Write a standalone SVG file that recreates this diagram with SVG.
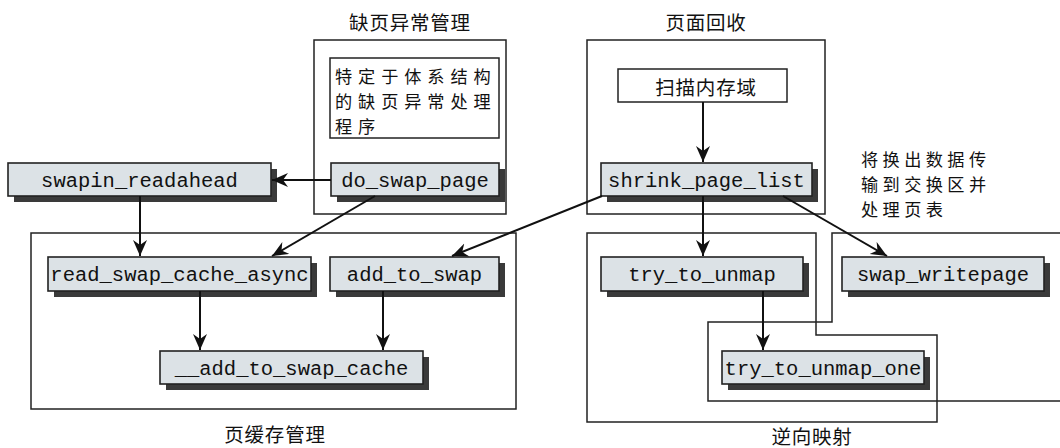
<svg xmlns="http://www.w3.org/2000/svg" width="1060" height="448" viewBox="0 0 1060 448">
<style>
.bg{fill:#ffffff}
.grp{fill:none;stroke:#222;stroke-width:1.5}
.wbox{fill:#ffffff;stroke:#222;stroke-width:1.5}
.shadow{fill:#3a3a3a}
.fn{fill:#dce2e6;stroke:#222;stroke-width:1.6}
.mono{font-family:"Liberation Mono","DejaVu Sans Mono",monospace;font-size:20.5px;fill:#111;text-anchor:middle}
.cjk{font-family:"Noto Sans CJK SC",sans-serif;font-size:19.5px;fill:#111}
.ml{font-size:17.2px}
.ttl{text-anchor:middle;letter-spacing:0.8px}
.conn{stroke:#111;stroke-width:2;fill:none}
</style>
<defs>
<marker id="arr" markerUnits="userSpaceOnUse" markerWidth="18" markerHeight="16" refX="16" refY="7" orient="auto">
<path d="M0,0 L16,7 L0,14 L5,7 Z" fill="#111"/>
</marker>
</defs>
<rect class="bg" x="0" y="0" width="1060" height="448"/>

<g id="group-fault">
<rect class="grp" x="314" y="40" width="192" height="174"/>
<text class="cjk ttl" x="410" y="30">缺页异常管理</text>
</g>
<g id="group-reclaim">
<rect class="grp" x="587" y="40" width="238" height="174"/>
<text class="cjk ttl" x="706" y="30">页面回收</text>
</g>
<g id="group-cache">
<rect class="grp" x="31" y="233" width="485" height="176"/>
<text class="cjk ttl" x="275" y="442">页缓存管理</text>
</g>
<g id="group-rmap">
<path class="grp" d="M587,233 H816 V335 H937 V422 H587 Z"/>
<text class="cjk ttl" x="812" y="444">逆向映射</text>
</g>
<g id="group-writeout">
<path class="grp" d="M1062,233 H832 V322 H708 V401 H1062"/>
</g>

<g id="arch-handler">
<rect class="wbox" x="330" y="58" width="169" height="80"/>
<text class="cjk ml" x="335" y="83" letter-spacing="5.9">特定于体系结构</text>
<text class="cjk ml" x="335" y="108" letter-spacing="5.9">的缺页异常处理</text>
<text class="cjk ml" x="335" y="133" letter-spacing="5.9">程序</text>
</g>
<g id="scan-zones">
<rect class="wbox" x="618" y="69" width="169" height="33"/>
<text class="cjk ttl" x="706" y="95">扫描内存域</text>
</g>
<g id="note-writeout">
<text class="cjk ml" x="861" y="166" letter-spacing="4.4">将换出数据传</text>
<text class="cjk ml" x="861" y="191" letter-spacing="4.4">输到交换区并</text>
<text class="cjk ml" x="861" y="216" letter-spacing="4.4">处理页表</text>
</g>

<g id="swapin_readahead">
<rect class="shadow" x="14" y="169" width="263" height="33"/>
<rect class="fn" x="8" y="163" width="263" height="33"/>
<text class="mono" x="139.5" y="186.5">swapin_readahead</text>
</g>
<g id="do_swap_page">
<rect class="shadow" x="337" y="169" width="168" height="33"/>
<rect class="fn" x="331" y="163" width="168" height="33"/>
<text class="mono" x="415" y="186.5">do_swap_page</text>
</g>
<g id="shrink_page_list">
<rect class="shadow" x="607" y="169" width="211" height="33"/>
<rect class="fn" x="601" y="163" width="211" height="33"/>
<text class="mono" x="706.5" y="186.5">shrink_page_list</text>
</g>
<g id="read_swap_cache_async">
<rect class="shadow" x="54" y="263" width="263" height="34"/>
<rect class="fn" x="48" y="257" width="263" height="34"/>
<text class="mono" x="179.5" y="281">read_swap_cache_async</text>
</g>
<g id="add_to_swap">
<rect class="shadow" x="336" y="263" width="169" height="34"/>
<rect class="fn" x="330" y="257" width="169" height="34"/>
<text class="mono" x="414.5" y="281">add_to_swap</text>
</g>
<g id="__add_to_swap_cache">
<rect class="shadow" x="166" y="357" width="263" height="33"/>
<rect class="fn" x="160" y="351" width="263" height="33"/>
<text class="mono" x="291.5" y="374.5">__add_to_swap_cache</text>
</g>
<g id="try_to_unmap">
<rect class="shadow" x="607" y="263" width="202" height="34"/>
<rect class="fn" x="601" y="257" width="202" height="34"/>
<text class="mono" x="702" y="281">try_to_unmap</text>
</g>
<g id="swap_writepage">
<rect class="shadow" x="848" y="263" width="202" height="34"/>
<rect class="fn" x="842" y="257" width="202" height="34"/>
<text class="mono" x="943" y="281">swap_writepage</text>
</g>
<g id="try_to_unmap_one">
<rect class="shadow" x="728" y="357" width="202" height="33"/>
<rect class="fn" x="722" y="351" width="202" height="33"/>
<text class="mono" x="823" y="374.5">try_to_unmap_one</text>
</g>

<g id="connectors">
<line class="conn" x1="331" y1="180" x2="272" y2="180" marker-end="url(#arr)"/>
<line class="conn" x1="375" y1="196" x2="272" y2="256" marker-end="url(#arr)"/>
<line class="conn" x1="140" y1="196" x2="140" y2="256" marker-end="url(#arr)"/>
<line class="conn" x1="200" y1="291" x2="200" y2="350" marker-end="url(#arr)"/>
<line class="conn" x1="383" y1="291" x2="383" y2="350" marker-end="url(#arr)"/>
<line class="conn" x1="602" y1="196" x2="452" y2="256" marker-end="url(#arr)"/>
<line class="conn" x1="703" y1="102" x2="703" y2="162" marker-end="url(#arr)"/>
<line class="conn" x1="703" y1="196" x2="703" y2="256" marker-end="url(#arr)"/>
<line class="conn" x1="783" y1="196" x2="887" y2="256" marker-end="url(#arr)"/>
<line class="conn" x1="763" y1="291" x2="763" y2="350" marker-end="url(#arr)"/>
</g>
</svg>
